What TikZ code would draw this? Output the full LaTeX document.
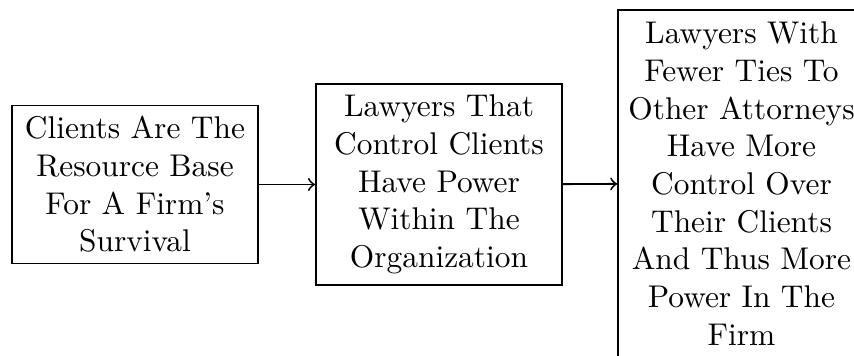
\documentclass[tikz,border=0pt]{standalone}
\begin{document}
\begin{tikzpicture}[x=0.3185pt,y=-0.3185pt,
  box/.style={draw,semithick,align=center,inner sep=0pt},
  conn/.style={->,semithick}]
\useasboundingbox (0,0) rectangle (854,356);
\node[box,minimum width=78.4pt,minimum height=50.3pt] (a) at (135,184.5)
  {Clients Are The\\Resource Base\\For A Firm's\\Survival};
\node[box,minimum width=78.4pt,minimum height=64pt] (b) at (439,184.5)
  {Lawyers That\\Control Clients\\Have Power\\Within The\\Organization};
\node[box,minimum width=78.6pt,minimum height=110.4pt] (c) at (741.5,183.5)
  {Lawyers With\\Fewer Ties To\\Other Attorneys\\Have More\\Control Over\\Their Clients\\And Thus More\\Power In The\\Firm};
\draw[conn] (a) -- (b);
\draw[conn] (b) -- (c);
\end{tikzpicture}
\end{document}
